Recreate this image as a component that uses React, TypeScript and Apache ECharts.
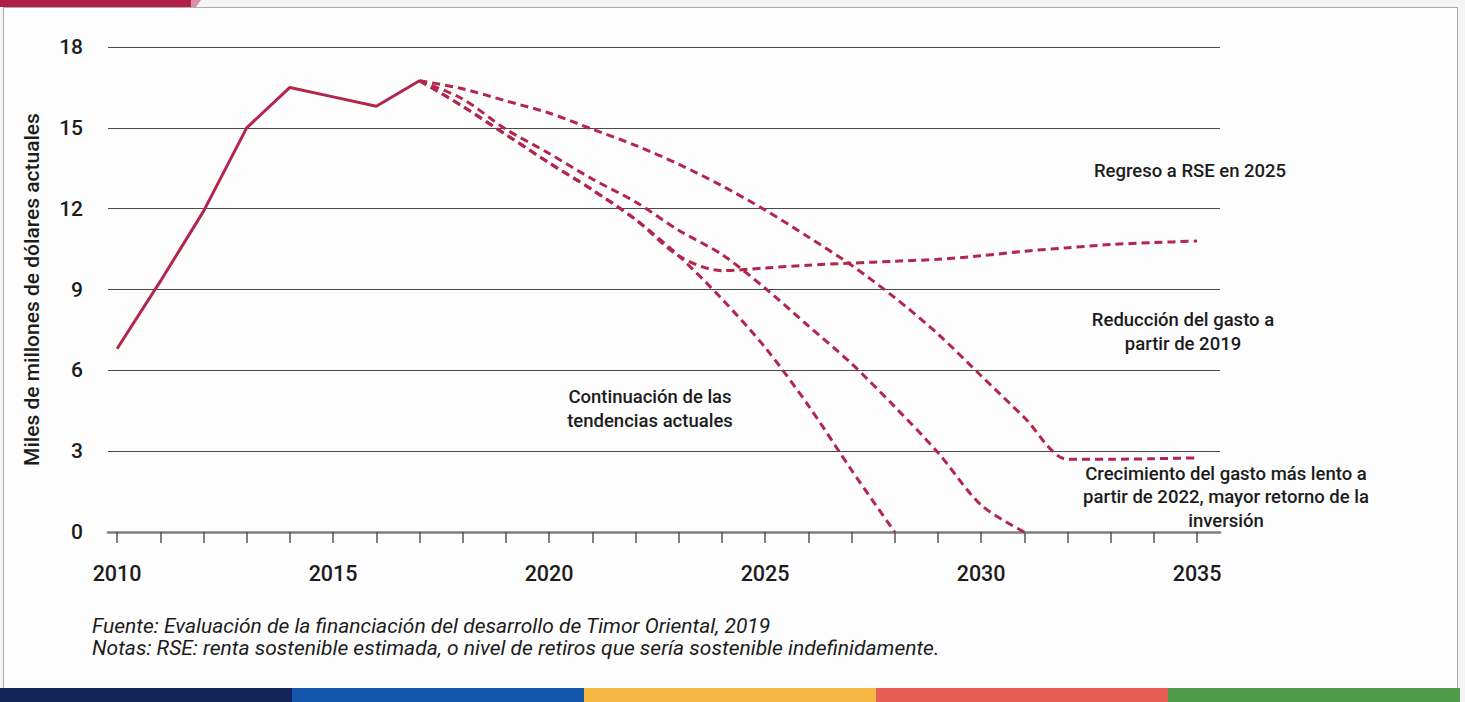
import React, { useEffect, useRef } from "react";
import * as echarts from "echarts";

// ---------- data ----------
const historicalYears = [2010, 2011, 2012, 2013, 2014, 2015, 2016, 2017];
const historicalValues = [6.8, 9.3, 11.9, 15.0, 16.5, 16.15, 15.8, 16.75];

const projectionYears = [
  2017, 2018, 2019, 2020, 2021, 2022, 2023, 2024, 2025, 2026, 2027, 2028, 2029,
  2030, 2031, 2032, 2033, 2034, 2035,
];
// slower spending growth from 2022 (levels off near 2.7)
const crecimientoValues = [
  16.75, 16.45, 16.0, 15.55, 14.95, 14.35, 13.65, 12.85, 11.95, 10.95, 9.9, 8.7,
  7.35, 5.8, 4.25, 2.7, 2.7, 2.72, 2.75,
];
// return to RSE in 2025
const regresoValues = [
  16.75, 15.8, 14.75, 13.7, 12.7, 11.6, 10.25, 9.7, 9.8, 9.9, 9.98, 10.05, 10.12,
  10.25, 10.42, 10.55, 10.67, 10.74, 10.8,
];
// spending reduction from 2019 (reaches 0 in 2031)
const reduccionValues = [
  16.75, 16.07, 14.95, 14.05, 13.1, 12.25, 11.2, 10.3, 9.05, 7.65, 6.25, 4.65,
  2.95, 1.0, 0,
];
// continuation of current trends (reaches 0 in 2028)
const continuacionValues = [
  16.75, 15.8, 14.75, 13.7, 12.7, 11.6, 10.25, 8.65, 6.85, 4.7, 2.3, 0,
];

const xTickYears = [
  2010, 2011, 2012, 2013, 2014, 2015, 2016, 2017, 2018, 2019, 2020, 2021, 2022,
  2023, 2024, 2025, 2026, 2027, 2028, 2029, 2030, 2031, 2032, 2033, 2034, 2035,
];
const xLabelYears = [2010, 2015, 2020, 2025, 2030, 2035];

const yAxisName = "Miles de millones de dólares actuales";
const sourceText =
  "Fuente: Evaluación de la financiación del desarrollo de Timor Oriental, 2019";
const notesText =
  "Notas: RSE: renta sostenible estimada, o nivel de retiros que sería sostenible indefinidamente.";

const LINE_COLOR = "#b3264b";
const TEXT_COLOR = "#1c1c1c";
const FONT = "Roboto";

const pair = (xs: number[], ys: number[]) => ys.map((v, i) => [xs[i], v]);

export default function App() {
  const ref = useRef<HTMLDivElement>(null);

  useEffect(() => {
    document.body.style.margin = "0";
    if (!ref.current) return;
    const chart = echarts.init(ref.current, undefined, { renderer: "svg" });

    const dashed = (name: string, values: number[]) => ({
      name,
      type: "line",
      data: pair(projectionYears, values),
      symbol: "none",
      smooth: 0.3,
      lineStyle: { color: LINE_COLOR, width: 3, type: [8, 5] },
      z: 3,
    });

    const annot = (text: string, x: number, y: number, lh: number) => ({
      type: "text",
      x,
      y,
      style: {
        text,
        fill: TEXT_COLOR,
        fontFamily: FONT,
        fontSize: 18.5,
        fontWeight: 500,
        lineHeight: lh,
        align: "center",
        verticalAlign: "middle",
      },
    });

    const footer = (text: string, y: number) => ({
      type: "text",
      x: 92,
      y,
      style: {
        text,
        fill: TEXT_COLOR,
        fontFamily: FONT,
        fontSize: 21,
        fontStyle: "italic",
        align: "left",
        verticalAlign: "middle",
      },
    });

    const option: any = {
      animation: false,
      textStyle: { fontFamily: FONT },
      grid: { left: 108, right: 245, top: 47, bottom: 170, containLabel: false },
      xAxis: {
        type: "value",
        min: 2009.79,
        max: 2035.53,
        axisLine: { show: true, lineStyle: { color: "#7d7d7d", width: 2.5 } },
        axisTick: {
          show: true,
          customValues: xTickYears,
          length: 11,
          lineStyle: { color: "#555", width: 1.5 },
        },
        axisLabel: {
          customValues: xLabelYears,
          fontSize: 21.5,
          fontWeight: 500,
          color: TEXT_COLOR,
          margin: 30,
          formatter: (v: number) => String(Math.round(v)),
        },
        splitLine: { show: false },
      },
      yAxis: {
        type: "value",
        min: 0,
        max: 18,
        interval: 3,
        name: yAxisName,
        nameLocation: "middle",
        nameGap: 66,
        nameTextStyle: { fontSize: 21, fontWeight: 500, color: TEXT_COLOR },
        axisLine: { show: false },
        axisTick: { show: false },
        axisLabel: { fontSize: 21, fontWeight: 500, color: TEXT_COLOR, margin: 25 },
        splitLine: {
          show: true,
          showMinLine: false,
          lineStyle: { color: "#4a4a4a", width: 1.2 },
        },
      },
      series: [
        {
          name: "Histórico",
          type: "line",
          data: pair(historicalYears, historicalValues),
          symbol: "none",
          lineStyle: { color: LINE_COLOR, width: 3 },
          z: 4,
        },
        dashed("Crecimiento del gasto más lento", crecimientoValues),
        dashed("Regreso a RSE en 2025", regresoValues),
        dashed("Reducción del gasto a partir de 2019", reduccionValues),
        dashed("Continuación de las tendencias actuales", continuacionValues),
      ],
      graphic: [
        annot("Regreso a RSE en 2025", 1190, 171, 23),
        annot("Reducción del gasto a\npartir de 2019", 1183, 332, 23.5),
        annot("Continuación de las\ntendencias actuales", 650, 409, 24),
        annot(
          "Crecimiento del gasto más lento a\npartir de 2022, mayor retorno de la\ninversión",
          1226,
          497,
          23.5
        ),
        footer(sourceText, 626),
        footer(notesText, 648),
      ],
    };

    chart.setOption(option);
    return () => chart.dispose();
  }, []);

  const strips = ["#13245a", "#1456ab", "#f7b843", "#e85e55", "#4e994a"];

  return (
    <div
      style={{
        position: "relative",
        width: 1465,
        height: 702,
        background: "#f4f4f4",
        overflow: "hidden",
      }}
    >
      <div
        style={{
          position: "absolute",
          left: 0,
          top: 0,
          width: 0,
          height: 0,
          borderTop: "7px solid #b01f48",
          borderRight: "4px solid transparent",
          paddingLeft: 192,
          boxSizing: "content-box",
        }}
      />
      <div
        style={{
          position: "absolute",
          left: 194,
          top: 0,
          width: 0,
          height: 0,
          borderTop: "7px solid #dc8ea4",
          borderRight: "5px solid transparent",
          paddingLeft: 5,
          marginLeft: -3,
        }}
      />
      <div
        style={{
          position: "absolute",
          left: 3,
          top: 7,
          width: 1453,
          height: 690,
          background: "#fdfdfd",
          border: "1.5px solid #a8adb3",
        }}
      />
      <div
        style={{
          position: "absolute",
          left: 0,
          top: 688,
          width: 1460,
          height: 14,
          display: "flex",
        }}
      >
        {strips.map((c) => (
          <div key={c} style={{ flex: 1, background: c }} />
        ))}
      </div>
      <div
        ref={ref}
        style={{ position: "absolute", left: 0, top: 0, width: 1465, height: 702 }}
      />
    </div>
  );
}
